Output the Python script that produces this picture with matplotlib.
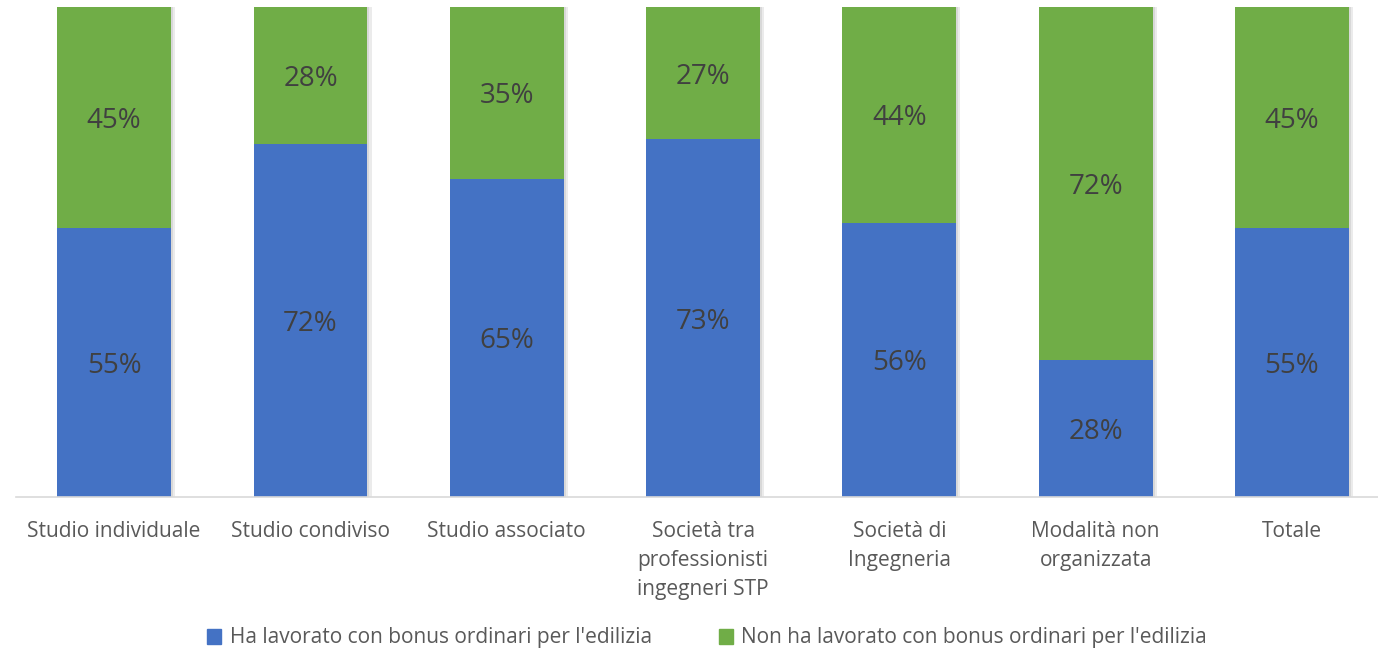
import matplotlib.pyplot as plt
from matplotlib import patheffects
from matplotlib.patches import Patch

categories = ['Studio individuale', 'Studio condiviso', 'Studio associato',
              'Società tra\nprofessionisti\ningegneri STP', 'Società di\nIngegneria',
              'Modalità non\norganizzata', 'Totale']
si_bonus = [55, 72, 65, 73, 56, 28, 55]
no_bonus = [45, 28, 35, 27, 44, 72, 45]
series_names = ["Ha lavorato con bonus ordinari per l'edilizia",
                "Non ha lavorato con bonus ordinari per l'edilizia"]

blue = '#4472C4'
green = '#70AD47'

plt.rcParams['font.family'] = ['Open Sans', 'DejaVu Sans']

fig = plt.figure(figsize=(13.78, 6.53), dpi=100)
W, H = 1378, 653
ax = fig.add_axes([16 / W, 1 - 497 / H, 1 - 16 / W, 490 / H])

x = range(len(categories))
# soft drop shadow to the right, like the Excel original
shadow = [patheffects.SimplePatchShadow(offset=(3, 0), alpha=0.08, shadow_rgbFace='black'),
          patheffects.SimplePatchShadow(offset=(1.5, 0), alpha=0.08, shadow_rgbFace='black'),
          patheffects.Normal()]
b1 = ax.bar(x, si_bonus, width=0.58, color=blue, linewidth=0, zorder=2)
b2 = ax.bar(x, no_bonus, width=0.58, bottom=si_bonus, color=green, linewidth=0, zorder=2)
for b in list(b1) + list(b2):
    b.set_path_effects(shadow)

for i in x:
    ax.text(i, si_bonus[i] / 2, f'{si_bonus[i]}%', ha='center', va='center_baseline',
            fontsize=20, color='#404040', zorder=3)
    ax.text(i, si_bonus[i] + no_bonus[i] / 2, f'{no_bonus[i]}%', ha='center',
            va='center_baseline', fontsize=20, color='#404040', zorder=3)

ax.set_xlim(-0.5, (W - 114.2) / 196.3)
ax.set_ylim(0, 100)
ax.set_xticks(list(x))
ax.set_xticklabels(categories, fontsize=15, color='#595959', linespacing=1.5)
ax.tick_params(axis='x', length=0, pad=17)
ax.set_yticks([])
for s in ['top', 'right', 'left']:
    ax.spines[s].set_visible(False)
ax.spines['bottom'].set_color('#d9d9d9')
ax.spines['bottom'].set_linewidth(1.2)

handles = [Patch(color=blue), Patch(color=green)]
fig.legend(handles, series_names, loc='center', bbox_to_anchor=(707 / W, 1 - 638 / H),
           ncol=2, frameon=False, fontsize=15, labelcolor='#595959',
           handlelength=0.7, handleheight=0.7, handletextpad=0.4, columnspacing=3.2)

fig.savefig('out.png', dpi=100)
